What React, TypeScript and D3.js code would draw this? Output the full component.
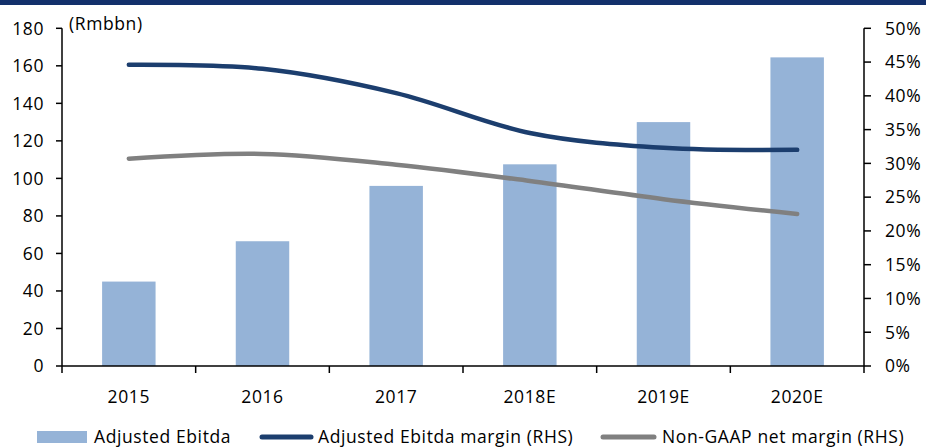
import React from "react";
import * as d3 from "d3";

const categories = ["2015", "2016", "2017", "2018E", "2019E", "2020E"];
const adjustedEbitda = [45, 66.5, 96, 107.5, 130, 164.5];
const ebitdaMargin = [44.6, 44.0, 40.4, 34.5, 32.3, 32.0];
const nonGaapMargin = [30.7, 31.4, 29.8, 27.4, 24.7, 22.5];
const leftTicks = [0, 20, 40, 60, 80, 100, 120, 140, 160, 180];
const rightTicks = [0, 5, 10, 15, 20, 25, 30, 35, 40, 45, 50];
const seriesNames = ["Adjusted Ebitda", "Adjusted Ebitda margin (RHS)", "Non-GAAP net margin (RHS)"];

const W = 926, H = 448;
const left = 62, right = 864, top = 28.3, bottom = 366;
const FONT = "'Open Sans', sans-serif";
const FS = 17.5;
const LS = 0.6;
const barColor = "#95B3D7";
const navy = "#1C3E6E";
const gray = "#808080";

export default function App() {
  const x = d3.scaleBand().domain(categories).range([left, right]).paddingInner(0.6).paddingOuter(0.3);
  const xc = (c: string) => (x(c) as number) + x.bandwidth() / 2;
  const yL = d3.scaleLinear().domain([0, 180]).range([bottom, top]);
  const yR = d3.scaleLinear().domain([0, 50]).range([bottom, top]);
  const step = (right - left) / categories.length;
  const line = d3.line<number>().x((_, i) => xc(categories[i])).y((v) => yR(v)).curve(d3.curveCatmullRom.alpha(0.5));

  return (
    <div style={{ position: "absolute", left: 0, top: 0 }}>
      <svg width={W} height={H} style={{ display: "block", fontFamily: FONT, letterSpacing: LS }}>
        <rect x={0} y={0} width={W} height={H} fill="#fff" />
        <rect x={0} y={0} width={W} height={5} fill="#13306B" />
        {categories.map((c, i) => (
          <rect key={c} x={x(c)} y={yL(adjustedEbitda[i])} width={x.bandwidth()} height={bottom - yL(adjustedEbitda[i])} fill={barColor} />
        ))}
        <path d={line(ebitdaMargin) || ""} fill="none" stroke={navy} strokeWidth={4.5} strokeLinecap="round" strokeLinejoin="round" />
        <path d={line(nonGaapMargin) || ""} fill="none" stroke={gray} strokeWidth={4.5} strokeLinecap="round" strokeLinejoin="round" />
        {/* left axis */}
        <line x1={left} x2={left} y1={top} y2={bottom} stroke="#000" strokeWidth={1.5} />
        {leftTicks.map((t) => (
          <g key={t}>
            <line x1={left - 6} x2={left} y1={yL(t)} y2={yL(t)} stroke="#000" strokeWidth={1.5} />
            <text x={44} y={yL(t)} dy="0.36em" textAnchor="end" fontSize={FS} fill="#000">{t}</text>
          </g>
        ))}
        <text x={69} y={30} fontSize={FS} fill="#000">(Rmbbn)</text>
        {/* right axis */}
        <line x1={right} x2={right} y1={top} y2={bottom} stroke="#000" strokeWidth={1.5} />
        {rightTicks.map((t) => (
          <g key={t}>
            <line x1={right} x2={right + 7} y1={yR(t)} y2={yR(t)} stroke="#000" strokeWidth={1.5} />
            <text x={885} y={yR(t)} dy="0.36em" textAnchor="start" fontSize={FS} fill="#000">{t}%</text>
          </g>
        ))}
        {/* x axis */}
        <line x1={left} x2={right} y1={bottom} y2={bottom} stroke="#000" strokeWidth={1.5} />
        {d3.range(categories.length + 1).map((i) => (
          <line key={i} x1={left + i * step} x2={left + i * step} y1={bottom} y2={bottom + 7} stroke="#000" strokeWidth={1.5} />
        ))}
        {categories.map((c) => (
          <text key={c} x={xc(c)} y={403} textAnchor="middle" fontSize={FS} fill="#000">{c}</text>
        ))}
        {/* legend */}
        <rect x={37} y={431} width={50} height={12} fill={barColor} />
        <text x={94} y={443} fontSize={FS} fill="#000">{seriesNames[0]}</text>
        <line x1={262} x2={311} y1={437} y2={437} stroke={navy} strokeWidth={5} strokeLinecap="round" />
        <text x={318} y={443} fontSize={FS} fill="#000">{seriesNames[1]}</text>
        <line x1={603} x2={654} y1={437} y2={437} stroke={gray} strokeWidth={5} strokeLinecap="round" />
        <text x={662} y={443} fontSize={FS} fill="#000">{seriesNames[2]}</text>
      </svg>
    </div>
  );
}
